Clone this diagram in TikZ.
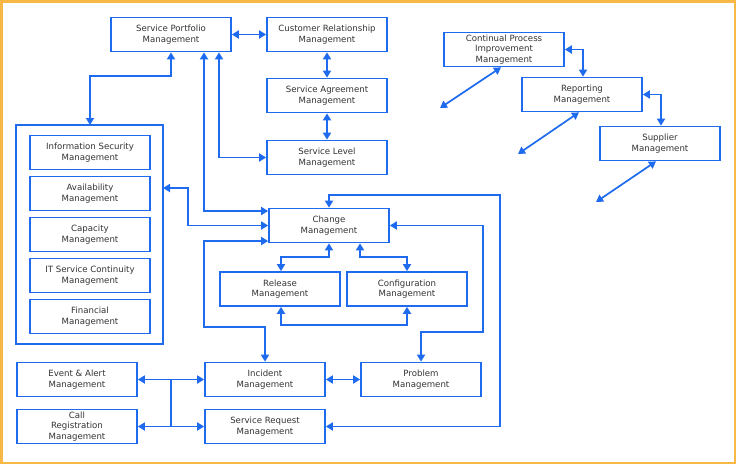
\documentclass[tikz,border=0pt]{standalone}
\usepackage{fontspec}
\setmainfont{DejaVu Sans}
\usetikzlibrary{arrows.meta}
\definecolor{bl}{HTML}{1F6BEF}
\definecolor{org}{HTML}{F8B846}
\begin{document}
\begin{tikzpicture}[x=1pt,y=-1pt,
  box/.style={draw=bl,line width=1.7pt,fill=white,minimum width=120pt,minimum height=34pt,inner sep=0pt,align=center,font=\fontsize{8.6}{10.6}\selectfont,text=black!80},
  ln/.style={draw=bl,line width=1.7pt},
  a/.style={ln,-{Triangle[length=7pt,width=8pt]}},
  aa/.style={ln,{Triangle[length=7pt,width=8pt]}-{Triangle[length=7pt,width=8pt]}}]
\fill[white] (0,0) rectangle (736,464);
\draw[org,line width=2.5pt] (1.25,1.25) rectangle (734.75,462.75);
\draw[bl,line width=1.7pt] (16,125) rectangle (163,344);
\node[box] (spm) at (171,34.5) {Service Portfolio\\Management};
\node[box] (crm) at (327,34.5) {Customer Relationship\\Management};
\node[box] (sam) at (327,95.5) {Service Agreement\\Management};
\node[box] (slm) at (327,157.5) {Service Level\\Management};
\node[box] (ism) at (90,152.5) {Information Security\\Management};
\node[box] (av) at (90,193.5) {Availability\\Management};
\node[box] (cap) at (90,234.5) {Capacity\\Management};
\node[box] (itsc) at (90,275.5) {IT Service Continuity\\Management};
\node[box] (fin) at (90,316.5) {Financial\\Management};
\node[box] (chg) at (329,225.5) {Change\\Management};
\node[box] (rel) at (280,289) {Release\\Management};
\node[box] (cfg) at (407,289) {Configuration\\Management};
\node[box] (inc) at (265,379.5) {Incident\\Management};
\node[box] (prb) at (421,379.5) {Problem\\Management};
\node[box] (ev) at (77,379.5) {Event \& Alert\\Management};
\node[box] (call) at (77,426.5) {Call\\Registration\\Management};
\node[box] (srm) at (265,426.5) {Service Request\\Management};
\node[box] (cpi) at (504,49.5) {Continual Process\\Improvement\\Management};
\node[box] (rep) at (582,94.5) {Reporting\\Management};
\node[box] (sup) at (660,143.5) {Supplier\\Management};
\coordinate (grp) at (90,125);
\coordinate (grpr) at (163,188);
\draw[aa] (spm.east) -- (crm.west);
\draw[aa] (crm.south) -- (sam.north);
\draw[aa] (sam.south) -- (slm.north);
\draw[aa] (spm.south) |- (90,76) -- (grp);
\draw[aa] (spm.south -| 204,0) -- (204,211) -- (chg.west |- 0,211);
\draw[aa] (spm.south -| 219,0) |- (slm.west);
\draw[aa] (grpr) -- (188,188) |- (chg.west);
\draw[aa] (chg.west |- 0,241) -- (204,241) -- (204,327) -| (inc.north);
\draw[aa] (chg.south) -- (329,257) -| (rel.north -| 281,0);
\draw[aa] (chg.south -| 360,0) -- (360,257) -| (cfg.north);
\draw[aa] (rel.south -| 281,0) -- (281,325) -| (cfg.south);
\draw[aa] (chg.east) -- (483,225.5) -- (483,332) -| (prb.north);
\draw[aa] (chg.north) -- (329,195) -- (500,195) |- (srm.east);
\draw[aa] (inc.east) -- (prb.west);
\draw[aa] (ev.east) -- (inc.west);
\draw[aa] (call.east) -- (srm.west);
\draw[ln] (171,379.5) -- (171,426.5);
\draw[aa] (cpi.east) -- (583,49.5) -- (rep.north -| 583,0);
\draw[aa] (rep.east) -- (661,94.5) -- (sup.north -| 661,0);
\coordinate (d1) at (440,108);
\coordinate (d2) at (518,154);
\coordinate (d3) at (596,202);
\draw[aa] (cpi.south -| 501,0) -- (d1);
\draw[aa] (rep.south -| 579,0) -- (d2);
\draw[aa] (sup.south -| 656,0) -- (d3);
\end{tikzpicture}
\end{document}
